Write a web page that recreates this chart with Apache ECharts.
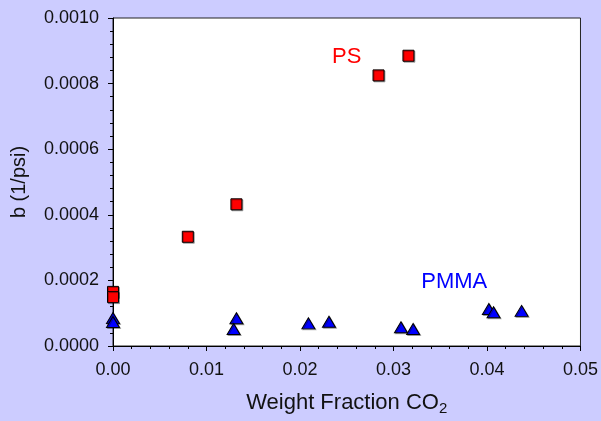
<!DOCTYPE html>
<html>
<head>
<meta charset="utf-8">
<script src="https://cdn.jsdelivr.net/npm/echarts@6/dist/echarts.min.js"></script>
<style>
  html, body { margin: 0; padding: 0; background: #ccccff; }
  #chart { width: 601px; height: 421px; }
</style>
</head>
<body>
<div id="chart"></div>
<script>
// PS data (weight fraction CO2, b in 1/psi)
const psX = [0.0000, 0.0000, 0.0080, 0.0132, 0.0284, 0.0316];
const psY = [0.000165, 0.000149, 0.000333, 0.000432, 0.000825, 0.000885];
// PMMA data
const pmmaX = [0.0000, 0.0000, 0.0132, 0.0129, 0.0209, 0.0231, 0.0308, 0.0321, 0.0402, 0.0407, 0.0437];
const pmmaY = [0.000085, 0.000073, 0.0000845, 0.000052, 0.000069, 0.000074, 0.000057, 0.000052, 0.000113, 0.000103, 0.000107];

const FONT = "Liberation Sans, Arial, sans-serif";

const chart = echarts.init(document.getElementById("chart"));

const zip = (xs, ys) => xs.map((x, i) => [x, ys[i]]);

// text tag placed at a data coordinate
function tag(text, coord, color) {
  return {
    symbol: "circle",
    symbolSize: 1,
    itemStyle: { color: "rgba(0,0,0,0)", borderWidth: 0, shadowColor: "rgba(0,0,0,0)" },
    data: [{ coord: coord }],
    label: {
      show: true,
      formatter: text,
      position: "inside",
      fontFamily: FONT,
      fontSize: 22,
      color: color
    }
  };
}

const option = {
  backgroundColor: "#ccccff",
  animation: false,
  grid: {
    left: 113,
    right: 19,
    top: 18,
    bottom: 75,
    show: true,
    backgroundColor: "#ffffff",
    borderColor: "#222",
    borderWidth: 1
  },
  xAxis: {
    type: "value",
    min: 0,
    max: 0.05,
    interval: 0.01,
    name: "{a|Weight Fraction CO}{b|2}",
    nameLocation: "middle",
    nameGap: 43,
    nameTextStyle: {
      rich: {
        a: { fontFamily: FONT, fontSize: 22, color: "#111" },
        b: { fontFamily: FONT, fontSize: 15, color: "#111", padding: [12, 0, 0, 0] }
      }
    },
    axisLine: { lineStyle: { color: "#000", width: 1 } },
    axisTick: { length: 5, lineStyle: { color: "#000" } },
    minorTick: { show: true, splitNumber: 5, length: 3, lineStyle: { color: "#000" } },
    splitLine: { show: false },
    axisLabel: {
      margin: 15,
      fontFamily: FONT,
      fontSize: 18,
      color: "#111",
      formatter: v => v.toFixed(2)
    }
  },
  yAxis: {
    type: "value",
    min: 0,
    max: 0.001,
    interval: 0.0002,
    name: "b (1/psi)",
    nameLocation: "middle",
    nameGap: 84,
    nameTextStyle: { fontFamily: FONT, fontSize: 20, color: "#111" },
    axisLine: { lineStyle: { color: "#000", width: 1 } },
    axisTick: { length: 5, lineStyle: { color: "#000" } },
    minorTick: { show: true, splitNumber: 5, length: 3, lineStyle: { color: "#000" } },
    splitLine: { show: false },
    axisLabel: {
      margin: 14,
      fontFamily: FONT,
      fontSize: 18,
      color: "#111",
      formatter: v => v.toFixed(4)
    }
  },
  series: [
    {
      name: "PS",
      type: "scatter",
      symbol: "rect",
      symbolSize: 11,
      data: zip(psX, psY),
      itemStyle: {
        color: "#ff0000",
        opacity: 1,
        borderColor: "#000",
        borderWidth: 1,
        shadowColor: "rgba(0,0,0,0.3)",
        shadowOffsetX: 1,
        shadowOffsetY: 1
      },
      markPoint: tag("PS", [0.0250, 0.000881], "#ff0000")
    },
    {
      name: "PMMA",
      type: "scatter",
      symbol: "triangle",
      symbolSize: [13, 11],
      data: zip(pmmaX, pmmaY),
      itemStyle: {
        color: "#0000ff",
        opacity: 1,
        borderColor: "#000",
        borderWidth: 1,
        shadowColor: "rgba(0,0,0,0.3)",
        shadowOffsetX: 1,
        shadowOffsetY: 1
      },
      markPoint: tag("PMMA", [0.0365, 0.000195], "#0000ff")
    }
  ]
};

chart.setOption(option);
</script>
</body>
</html>
